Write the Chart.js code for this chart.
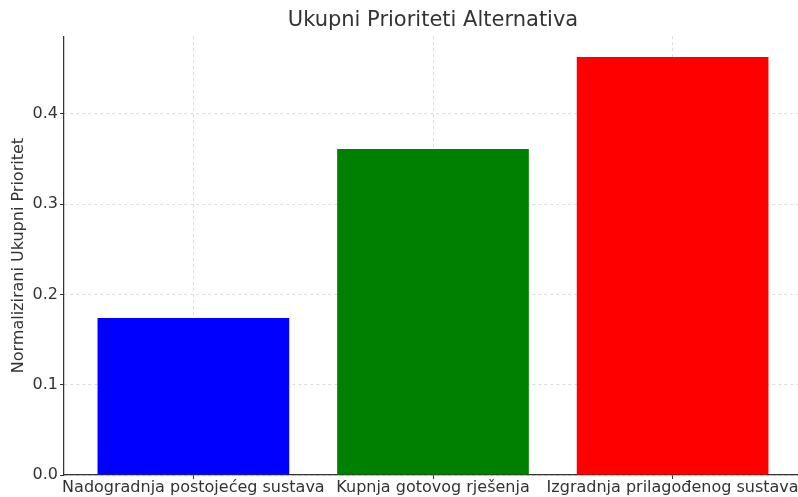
<!DOCTYPE html>
<html>
<head>
<meta charset="utf-8">
<script src="https://cdn.jsdelivr.net/npm/chart.js@4/dist/chart.umd.min.js"></script>
<style>
  html, body { margin: 0; padding: 0; overflow: hidden; background: #fff; }
  #wrap { width: 806px; height: 497px; }
</style>
</head>
<body>
<div id="wrap"><canvas id="barChart"></canvas></div>
<script>
// data
var categories = ['Nadogradnja postojećeg sustava', 'Kupnja gotovog rješenja', 'Izgradnja prilagođenog sustava'];
var priorities = [0.174, 0.361, 0.463];
var barColors = ['#0000ff', '#008000', '#ff0000'];
var yTicks = [0, 0.1, 0.2, 0.3, 0.4];

Chart.defaults.font.family = 'DejaVu Sans';
Chart.defaults.color = '#333';

var points = priorities.map(function(v, i) {
	return { x : i, y : v };
});

var gridStyle = {
	color : 'rgba(175,175,175,0.55)',
	lineWidth : 0.8,
	offset : false,
	drawTicks : true,
	tickLength : 4,
	tickColor : '#333',
	tickWidth : 1,
	tickBorderDash : []
};
var borderStyle = { display : true, color : '#333', width : 1.25, dash : [ 3, 3 ] };

var config = {
	type : 'bar',
	data : {
		datasets : [ {
			data : points,
			backgroundColor : barColors,
			borderWidth : 0,
			categoryPercentage : 1,
			barPercentage : 0.8
		} ]
	},
	options : {
		responsive : true,
		maintainAspectRatio : false,
		animation : false,
		layout : {
			padding : { left : 0, right : 4, top : 0, bottom : 0 }
		},
		plugins : {
			legend : { display : false },
			tooltip : { enabled : false },
			title : {
				display : true,
				fullSize : false,
				text : 'Ukupni Prioriteti Alternativa',
				color : '#333',
				font : { size : 21, weight : 'normal' },
				padding : { top : 8, bottom : 3 }
			}
		},
		scales : {
			x : {
				type : 'linear',
				min : -0.54,
				max : 2.54,
				offset : false,
				z : 1,
				grid : gridStyle,
				border : borderStyle,
				afterBuildTicks : function(axis) {
					axis.ticks = categories.map(function(c, i) {
						return { value : i };
					});
				},
				afterFit : function(axis) {
					axis.height = 22;
				},
				ticks : {
					autoSkip : false,
					maxRotation : 0,
					minRotation : 0,
					padding : -1,
					font : { size : 16 },
					callback : function(value) {
						return categories[value];
					}
				}
			},
			y : {
				min : 0,
				max : 0.486,
				z : 1,
				grid : gridStyle,
				border : borderStyle,
				afterBuildTicks : function(axis) {
					axis.ticks = yTicks.map(function(v) {
						return { value : v };
					});
				},
				afterFit : function(axis) {
					axis.width = 64;
				},
				ticks : {
					padding : 2,
					font : { size : 16 },
					callback : function(value) {
						return value.toFixed(1);
					}
				},
				title : {
					display : true,
					text : 'Normalizirani Ukupni Prioritet',
					font : { size : 16 },
					padding : { top : 9, bottom : 0 }
				}
			}
		}
	}
};

var ctx = document.getElementById('barChart').getContext('2d');
window.myBar = new Chart(ctx, config);
</script>
</body>
</html>
